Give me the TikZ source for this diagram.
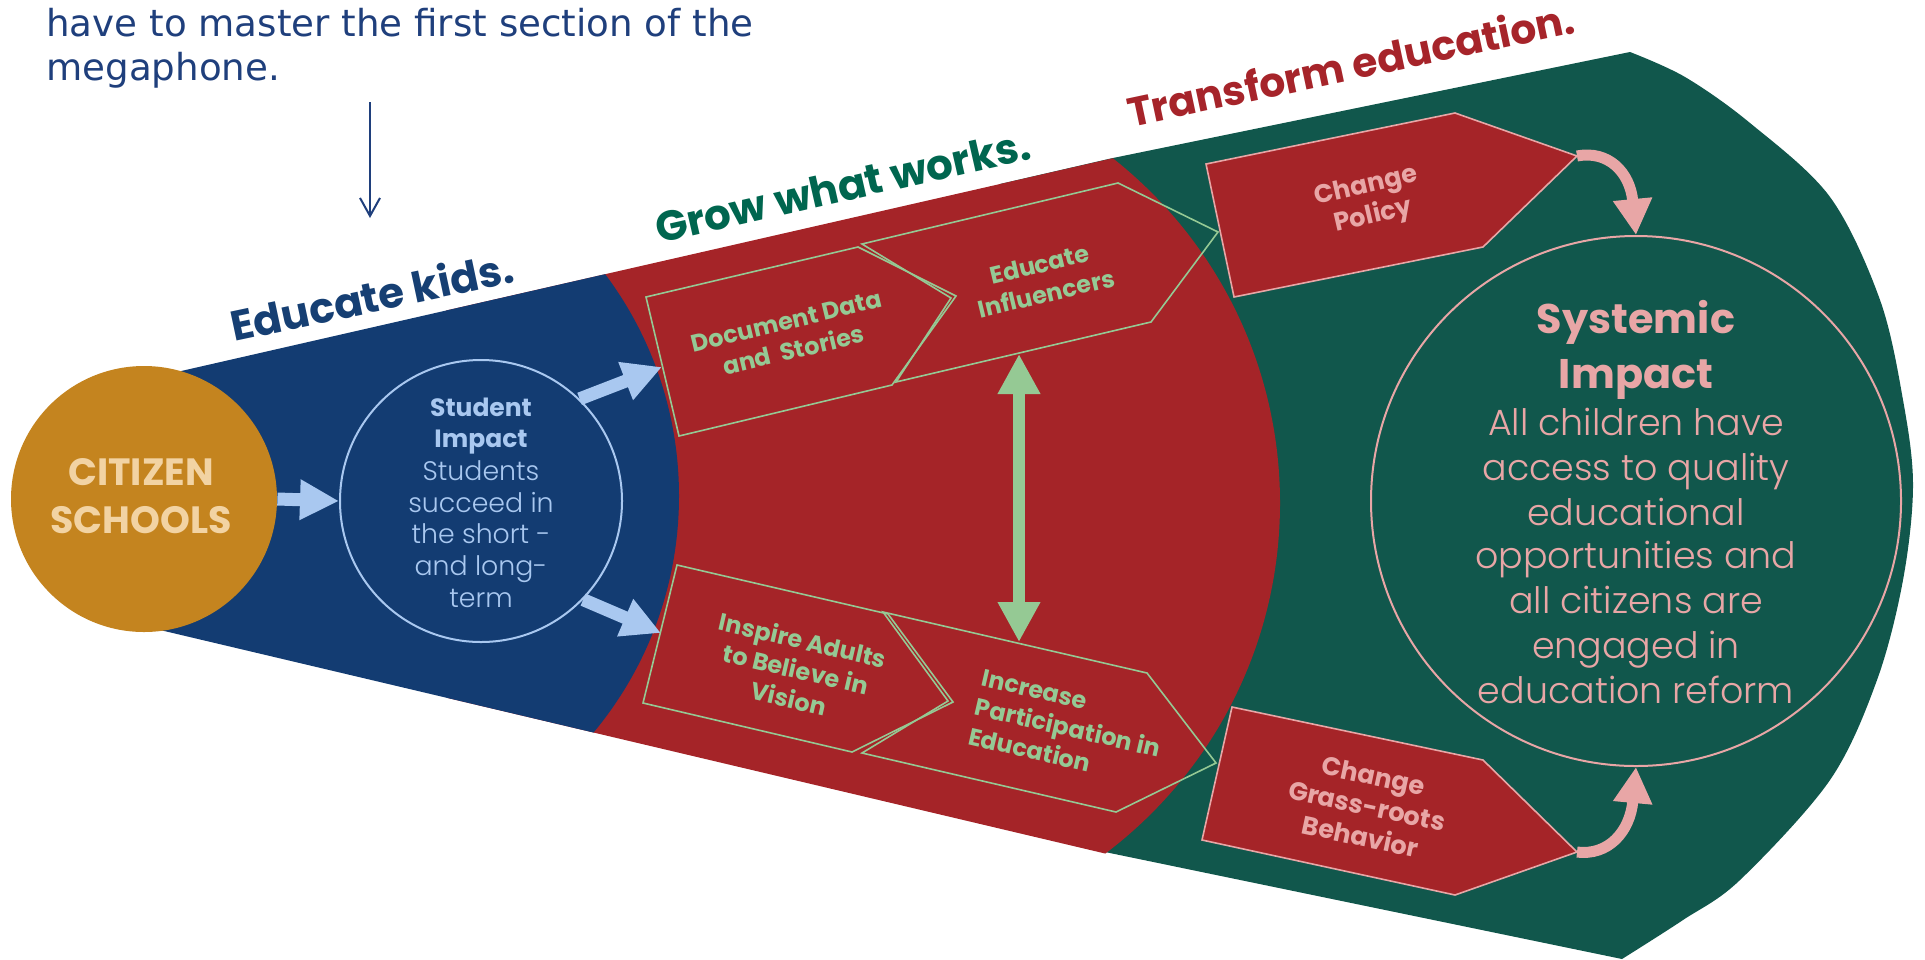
\documentclass[tikz,border=0pt]{standalone}
\usepackage{fontspec}
\setmainfont{DejaVu Sans}
\newfontfamily\gothic{Poppins}
\IfFontExistsTF{Poppins Light}{\newfontfamily\gothiclight{Poppins Light}}{\newfontfamily\gothiclight{Poppins}}
\usetikzlibrary{arrows.meta}
\definecolor{cnavy}{HTML}{133C72}
\definecolor{cred}{HTML}{A52428}
\definecolor{cgreen}{HTML}{11574C}
\definecolor{corange}{HTML}{C4841F}
\definecolor{cpeach}{HTML}{F2D3A3}
\definecolor{clblue}{HTML}{A9C8F0}
\definecolor{clgreen}{HTML}{95C994}
\definecolor{cpink}{HTML}{E8A6A6}
\definecolor{cteal}{HTML}{00664F}
\definecolor{ctitlered}{HTML}{A6242A}
\definecolor{ctitlenavy}{HTML}{163F73}
\definecolor{cnote}{HTML}{1F3F7C}
\begin{document}
\begin{tikzpicture}[x=0.5pt,y=-0.5pt,
  notetext/.style={anchor=base west,inner sep=0,text=cnote,font=\fontsize{18.6}{22}\selectfont},
  titletext/.style={anchor=base,inner sep=0,rotate=12},
  gbox/.style={draw=clgreen,line width=0.8pt,line join=miter},
  pbox/.style={fill=cred,draw=cpink,line width=0.8pt},
  gtext/.style={inner sep=0,align=center,text=clgreen,font=\gothic\bfseries\fontsize{12}{15}\selectfont},
  ptext/.style={inner sep=0,align=center,text=cpink,font=\gothic\bfseries\fontsize{12.8}{15.5}\selectfont},
  stline/.style={anchor=base,inner sep=0,text=clblue,font=\gothiclight\fontsize{13.4}{16}\selectfont},
  stbold/.style={anchor=base,inner sep=0,text=clblue,font=\gothic\bfseries\fontsize{12.5}{16}\selectfont},
  syline/.style={anchor=base,inner sep=0,text=cpink,font=\gothiclight\fontsize{18.2}{22}\selectfont},
  sybold/.style={anchor=base,inner sep=0,text=cpink,font=\gothic\bfseries\fontsize{20.7}{26}\selectfont},
  blockarrow/.style={draw=clblue,line width=6.5pt,-{Triangle[length=19.5pt,width=19pt]}},
  dblarrow/.style={draw=clgreen,line width=6pt,{Triangle[length=20pt,width=20pt]}-{Triangle[length=20pt,width=20pt]}},
  pinkarrow/.style={draw=cpink,line width=5.5pt,-{Triangle[length=18pt,width=18.5pt]}}
]
\useasboundingbox (0,0) rectangle (1925,959);

% ---- megaphone: green section
\fill[cgreen] (1000,184) -- (1111,158.4) -- (1630,52) -- plot[smooth,tension=0.55] coordinates {(1630,52) (1685,77) (1750,123) (1830,197) (1880,300) (1903,400) (1913,485) (1903,580) (1877,680) (1830,780) (1740,880) (1683,920) (1622,959)} -- (1105,852) -- (1000,828) -- cycle;
% ---- red and blue sections
\begin{scope}
  \clip (144,379.5) -- (1300,115.5) -- (1300,899.6) -- (144,626.2) -- cycle;
  \fill[cred] (841,503) circle[radius=439];
  \fill[cnavy] (309,496) circle[radius=370];
\end{scope}

% ---- top note
\node[notetext] (note1) at (46,36) {have to master the first section of the};
\node[notetext] (note2) at (46,80) {megaphone.};
\coordinate (ar1) at (370,102);
\coordinate (ar2) at (370,218);
\draw[cnote,line width=1pt,-{Straight Barb[length=9pt,width=10pt]}] (ar1) -- (ar2);

% ---- titles
\node[titletext,text=ctitlenavy,font=\gothic\bfseries\fontsize{21}{21}\selectfont] (t1) at (375,312) {Educate kids.};
\node[titletext,rotate=0.8,text=cteal,font=\gothic\bfseries\fontsize{21}{21}\selectfont] (t2) at (846,201) {Grow what works.};
\node[titletext,text=ctitlered,font=\gothic\bfseries\fontsize{20.4}{20.4}\selectfont] (t3) at (1354,80) {Transform education.};

% ---- circles
\node[circle,fill=corange,minimum size=133pt,inner sep=0] (cs) at (144,499) {};
\node[anchor=base,inner sep=0,text=cpeach,font=\gothic\bfseries\fontsize{19}{19}\selectfont] (cs1) at (141,485) {CITIZEN};
\node[anchor=base,inner sep=0,text=cpeach,font=\gothic\bfseries\fontsize{19}{19}\selectfont] (cs2) at (141,533) {SCHOOLS};

\node[circle,draw=clblue,line width=1pt,minimum size=141pt,inner sep=0] (si) at (481,501) {};
\node[stbold] (si1) at (481,416) {Student};
\node[stbold] (si2) at (481,447) {Impact};
\node[stline] (si3) at (481,480) {Students};
\node[stline] (si4) at (481,512) {succeed in};
\node[stline] (si5) at (481,543) {the short -};
\node[stline] (si6) at (481,575) {and long-};
\node[stline] (si7) at (481,607) {term};

\node[circle,draw=cpink,line width=1pt,minimum size=265pt,inner sep=0] (sys) at (1636,501) {};
\node[sybold] (sy1) at (1636,333) {Systemic};
\node[sybold] (sy2) at (1636,388) {Impact};
\node[syline] (sy3) at (1636,435) {All children have};
\node[syline] (sy4) at (1636,480) {access to quality};
\node[syline] (sy5) at (1636,525) {educational};
\node[syline] (sy6) at (1636,568) {opportunities and};
\node[syline] (sy7) at (1636,613) {all citizens are};
\node[syline] (sy8) at (1636,658) {engaged in};
\node[syline] (sy9) at (1636,703) {education reform};

% ---- green chevrons
\draw[gbox] (646,297) -- (858,247) -- (956,296) -- (892,385) -- (679,436) -- cycle;
\draw[gbox] (862,244) -- (1118,183) -- (1218,232) -- (1151,322) -- (896,382) -- (951,298) -- cycle;
\draw[gbox] (677,565) -- (888,614) -- (953,702) -- (852,752) -- (643,703) -- cycle;
\draw[gbox] (883,612) -- (1147,673) -- (1216,763) -- (1116,812) -- (862,753) -- (948,701) -- cycle;
\node[gtext,rotate=13.5] (dd) at (790,336) {Document Data\\and~ Stories};
\node[gtext,rotate=13.5] (ei) at (1043,279) {Educate\\Influencers};
\node[gtext,rotate=-13] (ia) at (796,669) {Inspire Adults\\to Believe in\\Vision};
\node[gtext,rotate=-13,align=left] (ip) at (1068,728) {Increase\\Participation in\\Education};

% ---- red pentagons
\filldraw[pbox] (1206,164) -- (1455,113) -- (1577,156) -- (1483,247) -- (1234,297) -- cycle;
\filldraw[pbox] (1232,707) -- (1483,760) -- (1577,852) -- (1455,895) -- (1202,840) -- cycle;
\node[ptext,rotate=13] (cp) at (1370,202) {Change\\Policy};
\node[ptext,rotate=-12] (cg) at (1367,806) {Change\\Grass-roots\\Behavior};

% ---- connectors
\coordinate (ddin) at (662,367);
\coordinate (iain) at (661,633);
\coordinate (eibot) at (1019,354);
\coordinate (iptop) at (1019,642);
\coordinate (cptip) at (1577,156);
\coordinate (cgtip) at (1577,852);
\draw[blockarrow] (cs.east) -- (si.west);
\draw[blockarrow] (si.46) -- (ddin);
\draw[blockarrow] (si.-44) -- (iain);
\draw[dblarrow] (eibot) -- (iptop);
\draw[pinkarrow] (cptip) .. controls (1608,150) and (1630,172) .. (sys.north);
\draw[pinkarrow] (cgtip) .. controls (1608,856) and (1630,832) .. (sys.south);
\end{tikzpicture}
\end{document}
